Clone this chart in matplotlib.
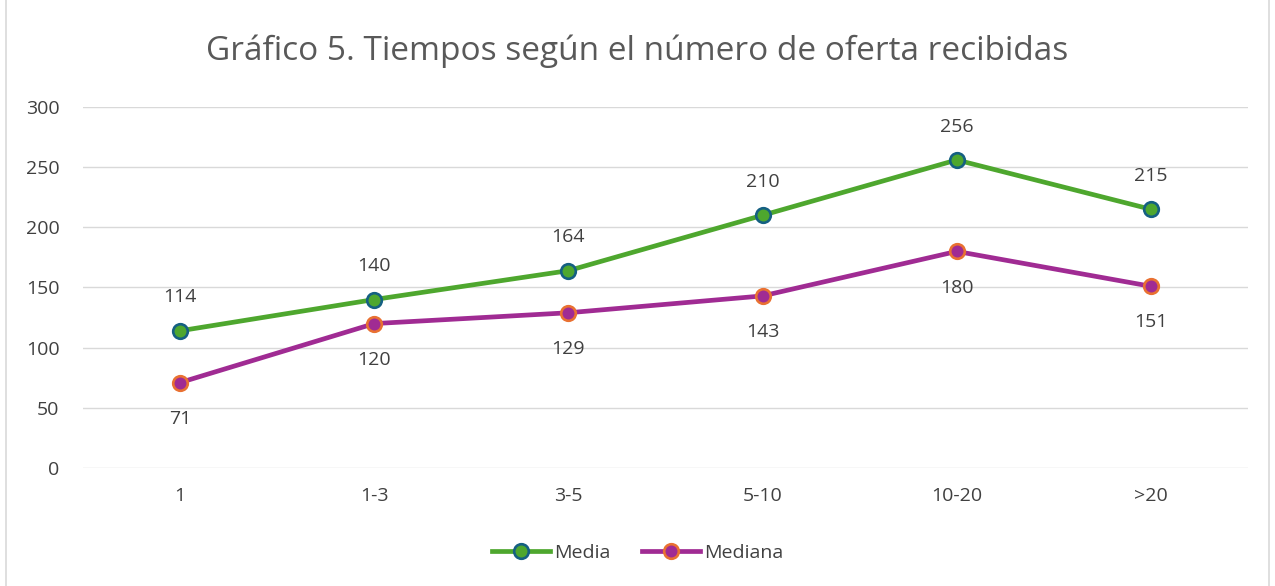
import matplotlib.pyplot as plt
from matplotlib.patches import Rectangle

# tiempos por numero de ofertas recibidas
categorias = ['1', '1-3', '3-5', '5-10', '10-20', '>20']
media = [114, 140, 164, 210, 256, 215]
mediana = [71, 120, 129, 143, 180, 151]

plt.rcParams['font.family'] = ['Open Sans', 'DejaVu Sans']
texto = '#404040'

fig = plt.figure(figsize=(12.75, 5.86), dpi=100)
ax = fig.add_axes([0.0651, 0.2014, 0.9137, 0.616])

x = range(len(categorias))
ax.plot(x, media, color='#4EA72E', lw=3.4, marker='o', ms=10.5,
        mfc='#4EA72E', mec='#156082', mew=1.9, label='Media', zorder=3)
ax.plot(x, mediana, color='#A02B93', lw=3.4, marker='o', ms=10.5,
        mfc='#A02B93', mec='#E97132', mew=1.9, label='Mediana', zorder=3)

# etiquetas de datos
for i, v in enumerate(media):
    ax.annotate(str(v), (i, v), xytext=(0, 24), textcoords='offset points',
                ha='center', va='center', fontsize=14, color=texto)
for i, v in enumerate(mediana):
    ax.annotate(str(v), (i, v), xytext=(0, -26), textcoords='offset points',
                ha='center', va='center', fontsize=14, color=texto)

ax.set_xlim(-0.5, len(categorias) - 0.5)
ax.set_ylim(0, 300)
ax.set_yticks(range(0, 301, 50))
ax.set_xticks(list(x))
ax.set_xticklabels(categorias)
ax.grid(axis='y', color='#D9D9D9', lw=1)
ax.set_axisbelow(True)
for s in ax.spines.values():
    s.set_visible(False)
ax.tick_params(length=0, labelsize=14, labelcolor=texto)
ax.tick_params(axis='y', pad=17)
ax.tick_params(axis='x', pad=14)

fig.suptitle('Gráfico 5. Tiempos según el número de oferta recibidas',
             y=0.912, va='center', fontsize=24, color='#595959')

fig.legend(loc='center', bbox_to_anchor=(0.5, 0.056), ncol=2, frameon=False,
           fontsize=14, labelcolor=texto, handlelength=3.0, handletextpad=0.2,
           columnspacing=1.6)

# borde del grafico
fig.patches.append(Rectangle((0.005, -0.01), 0.99, 1.02, transform=fig.transFigure,
                             fill=False, ec='#D9D9D9', lw=1.2))

fig.savefig('out.png', dpi=100)
